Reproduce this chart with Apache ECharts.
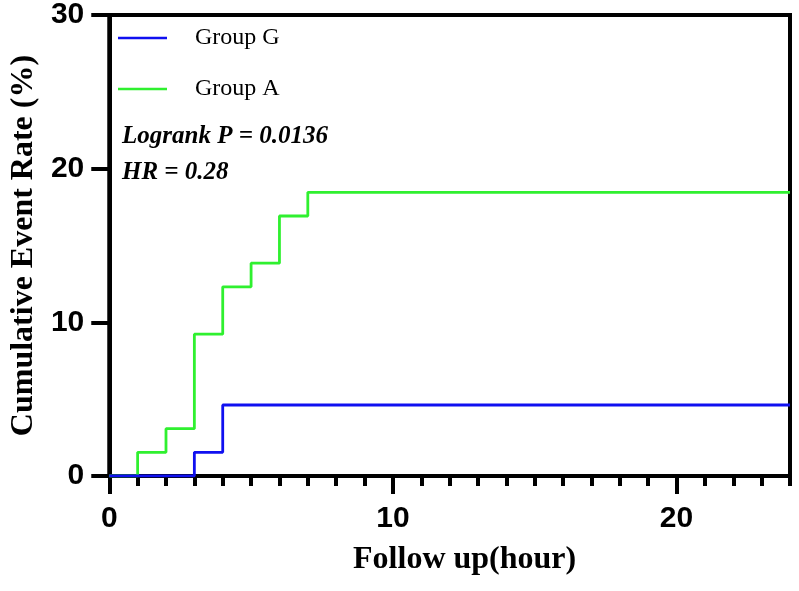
<!DOCTYPE html>
<html>
<head>
<meta charset="utf-8">
<script src="https://cdn.jsdelivr.net/npm/echarts@6/dist/echarts.min.js"></script>
<style>
  html, body { margin: 0; padding: 0; background: #fff; }
  #chart { width: 799px; height: 591px; }
</style>
</head>
<body>
<div id="chart"></div>
<script>
// follow-up time (hour) and cumulative event rate (%) at each step
var timeA = [0, 1, 2, 3, 4, 5, 6, 7, 24];
var rateA = [0, 1.54, 3.08, 9.23, 12.31, 13.85, 16.92, 18.46, 18.46];
var timeG = [0, 3, 4, 24];
var rateG = [0, 1.54, 4.62, 4.62];
var groupNames = ["Group G", "Group A"];
var xMajorTicks = [0, 10, 20];
var yTicks = [0, 10, 20, 30];

function pairs(xs, ys) {
  return xs.map(function (x, i) { return [x, ys[i]]; });
}

var chart = echarts.init(document.getElementById("chart"));

var serif = "'Liberation Serif', 'Times New Roman', serif";
var sans = "'Liberation Sans', Arial, sans-serif";

chart.setOption({
  backgroundColor: "#fff",
  animation: false,
  grid: {
    left: 107,
    right: 9,
    top: 14,
    bottom: 115,
    show: true,
    borderColor: "#000",
    borderWidth: 4
  },
  legend: {
    data: groupNames,
    orient: "vertical",
    left: 118,
    top: 26,
    padding: 0,
    icon: "rect",
    itemWidth: 49,
    itemHeight: 2.5,
    itemGap: 27,
    textStyle: {
      fontFamily: serif,
      fontSize: 24,
      lineHeight: 24,
      color: "#000",
      padding: [0, 0, 0, 23]
    }
  },
  graphic: [
    {
      type: "text",
      left: 122,
      top: 124,
      style: {
        text: "Logrank P = 0.0136",
        font: "italic bold 25px " + serif,
        fill: "#000"
      }
    },
    {
      type: "text",
      left: 122,
      top: 160,
      style: {
        text: "HR = 0.28",
        font: "italic bold 25px " + serif,
        fill: "#000"
      }
    }
  ],
  xAxis: [
    {
      type: "value",
      min: 0,
      max: 24,
      interval: 1,
      name: "Follow up(hour)",
      nameLocation: "middle",
      nameGap: 68,
      nameTextStyle: {
        fontFamily: serif,
        fontWeight: "bold",
        fontSize: 32,
        color: "#000",
        padding: [0, 0, 0, 30]
      },
      axisLine: { lineStyle: { color: "#000", width: 4 } },
      axisTick: { length: 10, lineStyle: { color: "#000", width: 4 } },
      axisLabel: {
        margin: 28,
        fontFamily: sans,
        fontWeight: "bold",
        fontSize: 30,
        color: "#000",
        formatter: function (v) {
          return xMajorTicks.indexOf(v) >= 0 ? String(v) : "";
        }
      },
      splitLine: { show: false }
    },
    {
      type: "value",
      min: 0,
      max: 24,
      position: "bottom",
      axisLine: { show: false },
      axisTick: {
        length: 18,
        customValues: xMajorTicks,
        lineStyle: { color: "#000", width: 4 }
      },
      axisLabel: { show: false },
      splitLine: { show: false }
    }
  ],
  yAxis: {
    type: "value",
    min: 0,
    max: 30,
    interval: 10,
    name: "Cumulative Event Rate (%)",
    nameLocation: "middle",
    nameGap: 66,
    nameTextStyle: {
      fontFamily: serif,
      fontWeight: "bold",
      fontSize: 32,
      color: "#000"
    },
    axisLine: { show: true, lineStyle: { color: "#000", width: 4 } },
    axisTick: { show: true, length: 18, lineStyle: { color: "#000", width: 4 } },
    axisLabel: {
      margin: 25,
      fontFamily: sans,
      fontWeight: "bold",
      fontSize: 30,
      color: "#000",
      formatter: function (v) {
        return yTicks.indexOf(v) >= 0 ? String(v) : "";
      }
    },
    splitLine: { show: false }
  },
  series: [
    {
      name: "Group A",
      type: "line",
      step: "end",
      symbol: "none",
      data: pairs(timeA, rateA),
      itemStyle: { color: "#2ff02f" },
      lineStyle: { color: "#2ff02f", width: 2.8 },
      z: 3
    },
    {
      name: "Group G",
      type: "line",
      step: "end",
      symbol: "none",
      data: pairs(timeG, rateG),
      itemStyle: { color: "#1010f0" },
      lineStyle: { color: "#1010f0", width: 2.8 },
      z: 4
    }
  ]
});
</script>
</body>
</html>
